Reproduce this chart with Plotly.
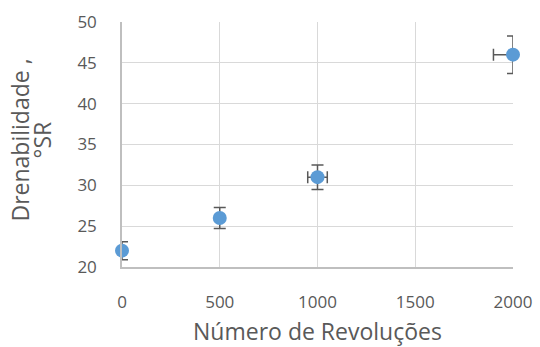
import plotly.graph_objects as go

# Drainability (°SR) versus number of PFI mill revolutions
revolutions = [0, 500, 1000, 2000]
drainability = [22, 26, 31, 46]
drain_err = [1.1, 1.3, 1.5, 2.3]
rev_err = [0, 0, 50, 100]

x_ticks = [0, 500, 1000, 1500, 2000]
y_ticks = [20, 25, 30, 35, 40, 45, 50]
y_title_lines = ["Drenabilidade ,", "°SR"]

text_color = "#595959"
grid_color = "#d9d9d9"
font_family = "Open Sans"

fig = go.Figure()
fig.add_trace(go.Scatter(
    x=revolutions,
    y=drainability,
    mode="markers",
    marker=dict(color="#5B9BD5", size=14),
    error_y=dict(type="data", array=drain_err, color="#595959", thickness=1.5, width=6),
    error_x=dict(type="data", array=rev_err, color="#595959", thickness=1.5, width=6),
    cliponaxis=False,
    showlegend=False,
))

# two-line rotated y title, each line placed on its own for tight spacing
title_x = [-0.261, -0.205]
annotations = [
    dict(
        text=line,
        xref="paper", yref="paper",
        x=xp, y=0.52,
        xanchor="center", yanchor="middle",
        textangle=-90,
        showarrow=False,
        font=dict(size=23, color=text_color),
    )
    for line, xp in zip(y_title_lines, title_x)
]

fig.update_layout(
    width=540,
    height=347,
    margin=dict(l=122, r=27, t=22, b=80),
    paper_bgcolor="white",
    plot_bgcolor="white",
    font=dict(family=font_family, size=17, color=text_color),
    xaxis=dict(
        range=[0, 2000],
        tickvals=x_ticks,
        ticktext=[str(v) for v in x_ticks],
        showgrid=True,
        gridcolor=grid_color,
        gridwidth=1,
        zeroline=False,
        showline=True,
        linecolor="#bfbfbf",
        linewidth=1.5,
        ticks="",
        ticklabelstandoff=19,
        automargin=False,
        title=dict(text="Número de Revoluções", standoff=12,
                   font=dict(size=23, color=text_color)),
    ),
    yaxis=dict(
        range=[20, 50],
        tickvals=y_ticks,
        ticktext=[str(v) for v in y_ticks],
        showgrid=True,
        gridcolor=grid_color,
        gridwidth=1,
        zeroline=False,
        showline=True,
        linecolor="#bfbfbf",
        linewidth=1.5,
        ticks="",
        ticklabelstandoff=20,
        automargin=False,
    ),
    annotations=annotations,
)

fig.write_html("out.html")
